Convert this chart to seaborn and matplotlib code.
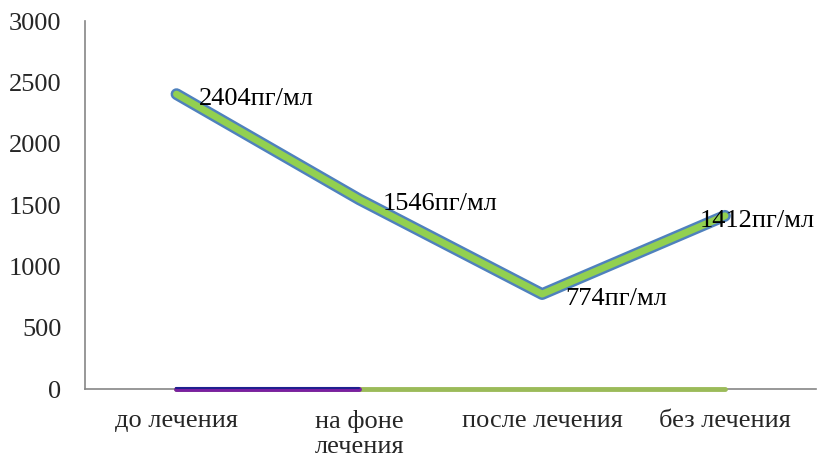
import matplotlib
matplotlib.use("Agg")
import matplotlib.pyplot as plt
import matplotlib.patheffects as pe
import matplotlib.transforms as mtransforms
import seaborn as sns
import pandas as pd

# Data
categories = ["до лечения", "на фоне\nлечения", "после лечения", "без лечения"]
values = [2404, 1546, 774, 1412]
unit = "пг/мл"
zero_series_a = [0, 0, 0, 0]   # green baseline series
zero_series_b = [0, 0]         # purple baseline series (first two points)
y_ticks = [0, 500, 1000, 1500, 2000, 2500, 3000]

sns.set_style("white")
plt.rcParams["font.family"] = ["Liberation Serif", "DejaVu Serif"]
FS = 19

fig = plt.figure(figsize=(8.18, 4.62), dpi=100)
ax = fig.add_axes([0.104, 0.158, 0.894, 0.7965])

pos = list(range(len(categories)))
df = pd.DataFrame({"pos": pos, "value": values})

# main series: green line with blue outline
sns.lineplot(data=df, x="pos", y="value", ax=ax, color="#92D050", linewidth=5,
             solid_capstyle="round", solid_joinstyle="round", zorder=5,
             path_effects=[pe.Stroke(linewidth=8.5, foreground="#4F81BD",
                                     capstyle="round", joinstyle="round"),
                           pe.Normal()])

# baseline series at zero
sns.lineplot(x=pos, y=zero_series_a, ax=ax, color="#9BBB59", linewidth=3.5,
             solid_capstyle="round", zorder=4, clip_on=False)
sns.lineplot(x=pos[:len(zero_series_b)], y=zero_series_b, ax=ax, color="#7B1FA2",
             linewidth=3.5, solid_capstyle="round", zorder=4, clip_on=False)
ax.plot(pos[:len(zero_series_b)], zero_series_b, color="#1F1F8F", linewidth=1.5,
        transform=ax.transData + mtransforms.ScaledTranslation(0, 0.8 / 72, fig.dpi_scale_trans),
        zorder=4.5, clip_on=False, solid_capstyle="round")

# data labels
label_offsets = [(16, -3.5), (17, -3.5), (17, -3.5), (-18, -3.5)]
for x, v, off in zip(pos, values, label_offsets):
    ax.annotate(f"{v}{unit}", (x, v), xytext=off, textcoords="offset points",
                ha="left", va="center", fontsize=FS, color="black", zorder=6)

ax.set_xlim(-0.5, len(categories) - 0.5)
ax.set_ylim(0, 3000)
ax.set_yticks(y_ticks)
ax.set_yticklabels([str(t) for t in y_ticks], fontsize=FS)
ax.set_xticks(pos)
ax.set_xticklabels(categories, fontsize=FS, linespacing=1.2, va="top")
ax.set_xticks([p - 0.5 for p in pos] + [pos[-1] + 0.5], minor=True)
ax.tick_params(axis="x", which="major", length=0, pad=15)
ax.tick_params(axis="x", which="minor", length=5, width=1, color="#868686", direction="out")
ax.tick_params(axis="y", length=5, width=1, color="#868686", direction="out", pad=12)
ax.set_xlabel("")
ax.set_ylabel("")

for s in ["top", "right"]:
    ax.spines[s].set_visible(False)
for s in ["left", "bottom"]:
    ax.spines[s].set_color("#868686")
    ax.spines[s].set_linewidth(1.2)

fig.savefig("out.png", dpi=100)
